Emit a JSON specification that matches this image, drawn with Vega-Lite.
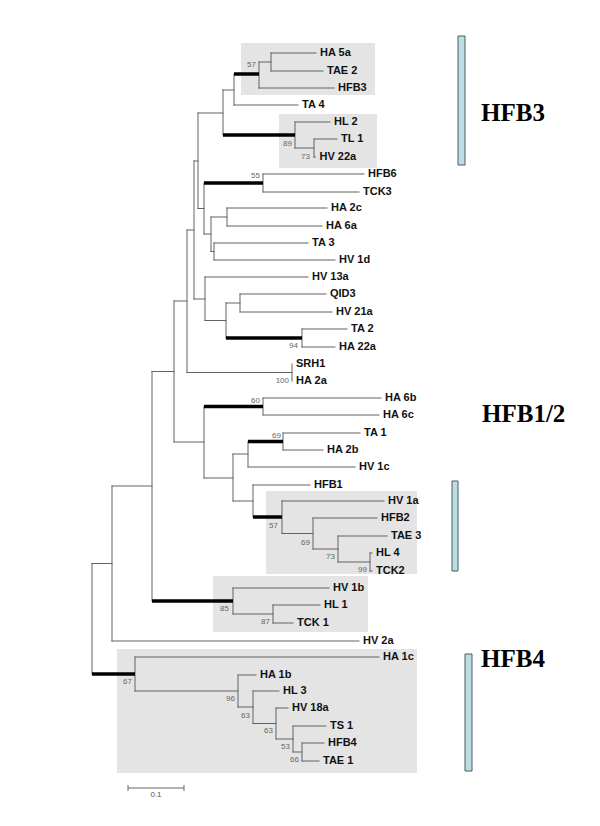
{
  "$schema": "https://vega.github.io/schema/vega-lite/v6.json",
  "width": 600,
  "height": 826,
  "padding": 0,
  "autosize": {"type": "none"},
  "background": "white",
  "config": {"view": {"stroke": null}},
  "datasets": {
    "boxes": [
      {"x": 241, "x2": 375, "y": 43, "y2": 95},
      {"x": 279, "x2": 377, "y": 114, "y2": 168},
      {"x": 266, "x2": 417, "y": 491, "y2": 574},
      {"x": 213, "x2": 368, "y": 576, "y2": 632},
      {"x": 117, "x2": 417, "y": 649, "y2": 773}
    ],
    "bars": [
      {"x": 458, "x2": 465, "y": 36, "y2": 165},
      {"x": 452, "x2": 458, "y": 481, "y2": 571},
      {"x": 465, "x2": 472, "y": 654, "y2": 771}
    ],
    "thin": [
      {"x": 271, "y": 53, "x2": 271, "y2": 71},
      {"x": 259, "y": 62, "x2": 259, "y2": 88},
      {"x": 234, "y": 74, "x2": 234, "y2": 105},
      {"x": 314, "y": 139, "x2": 314, "y2": 157},
      {"x": 295, "y": 122, "x2": 295, "y2": 148},
      {"x": 223, "y": 90, "x2": 223, "y2": 135},
      {"x": 263, "y": 174, "x2": 263, "y2": 192},
      {"x": 227, "y": 208, "x2": 227, "y2": 226},
      {"x": 214, "y": 243, "x2": 214, "y2": 260},
      {"x": 211, "y": 217, "x2": 211, "y2": 251.5},
      {"x": 204, "y": 183, "x2": 204, "y2": 234},
      {"x": 198, "y": 113, "x2": 198, "y2": 208.5},
      {"x": 240, "y": 294, "x2": 240, "y2": 312},
      {"x": 302, "y": 329, "x2": 302, "y2": 347},
      {"x": 226, "y": 303, "x2": 226, "y2": 338},
      {"x": 205, "y": 277, "x2": 205, "y2": 320.5},
      {"x": 194, "y": 161, "x2": 194, "y2": 299},
      {"x": 292, "y": 364, "x2": 292, "y2": 381},
      {"x": 187, "y": 230, "x2": 187, "y2": 372.5},
      {"x": 263, "y": 398, "x2": 263, "y2": 415},
      {"x": 283, "y": 433, "x2": 283, "y2": 450},
      {"x": 248, "y": 441.5, "x2": 248, "y2": 467},
      {"x": 370, "y": 553, "x2": 370, "y2": 571},
      {"x": 338, "y": 536, "x2": 338, "y2": 562},
      {"x": 313, "y": 518, "x2": 313, "y2": 549},
      {"x": 282, "y": 501, "x2": 282, "y2": 533.5},
      {"x": 253, "y": 485, "x2": 253, "y2": 517},
      {"x": 233, "y": 454, "x2": 233, "y2": 501},
      {"x": 204, "y": 406.5, "x2": 204, "y2": 478},
      {"x": 174, "y": 301, "x2": 174, "y2": 442},
      {"x": 273, "y": 605, "x2": 273, "y2": 623},
      {"x": 233, "y": 588, "x2": 233, "y2": 614},
      {"x": 152, "y": 371.5, "x2": 152, "y2": 601},
      {"x": 112, "y": 486, "x2": 112, "y2": 641},
      {"x": 302, "y": 743, "x2": 302, "y2": 761},
      {"x": 293, "y": 726, "x2": 293, "y2": 752},
      {"x": 276, "y": 708, "x2": 276, "y2": 739},
      {"x": 253, "y": 691, "x2": 253, "y2": 723.5},
      {"x": 238, "y": 675, "x2": 238, "y2": 707},
      {"x": 135, "y": 657, "x2": 135, "y2": 691},
      {"x": 92, "y": 563.5, "x2": 92, "y2": 674},
      {"x": 271, "y": 53, "x2": 316, "y2": 53},
      {"x": 271, "y": 71, "x2": 323, "y2": 71},
      {"x": 259, "y": 62, "x2": 271, "y2": 62},
      {"x": 259, "y": 88, "x2": 334, "y2": 88},
      {"x": 234, "y": 105, "x2": 298, "y2": 105},
      {"x": 223, "y": 90, "x2": 234, "y2": 90},
      {"x": 295, "y": 122, "x2": 330, "y2": 122},
      {"x": 295, "y": 148, "x2": 314, "y2": 148},
      {"x": 314, "y": 139, "x2": 337, "y2": 139},
      {"x": 314, "y": 157, "x2": 315.5, "y2": 157},
      {"x": 198, "y": 113, "x2": 223, "y2": 113},
      {"x": 263, "y": 174, "x2": 364, "y2": 174},
      {"x": 263, "y": 192, "x2": 359, "y2": 192},
      {"x": 227, "y": 208, "x2": 327, "y2": 208},
      {"x": 227, "y": 226, "x2": 322, "y2": 226},
      {"x": 211, "y": 217, "x2": 227, "y2": 217},
      {"x": 214, "y": 243, "x2": 308, "y2": 243},
      {"x": 214, "y": 260, "x2": 335, "y2": 260},
      {"x": 211, "y": 251.5, "x2": 214, "y2": 251.5},
      {"x": 204, "y": 234, "x2": 211, "y2": 234},
      {"x": 198, "y": 208.5, "x2": 204, "y2": 208.5},
      {"x": 194, "y": 161, "x2": 198, "y2": 161},
      {"x": 240, "y": 294, "x2": 326, "y2": 294},
      {"x": 240, "y": 312, "x2": 332, "y2": 312},
      {"x": 226, "y": 303, "x2": 240, "y2": 303},
      {"x": 302, "y": 329, "x2": 347, "y2": 329},
      {"x": 302, "y": 347, "x2": 335, "y2": 347},
      {"x": 205, "y": 320.5, "x2": 226, "y2": 320.5},
      {"x": 205, "y": 277, "x2": 308, "y2": 277},
      {"x": 194, "y": 299, "x2": 205, "y2": 299},
      {"x": 187, "y": 230, "x2": 194, "y2": 230},
      {"x": 187, "y": 372.5, "x2": 292, "y2": 372.5},
      {"x": 174, "y": 301, "x2": 187, "y2": 301},
      {"x": 263, "y": 398, "x2": 381, "y2": 398},
      {"x": 263, "y": 415, "x2": 379, "y2": 415},
      {"x": 283, "y": 433, "x2": 360, "y2": 433},
      {"x": 283, "y": 450, "x2": 323, "y2": 450},
      {"x": 248, "y": 467, "x2": 355, "y2": 467},
      {"x": 233, "y": 454, "x2": 248, "y2": 454},
      {"x": 370, "y": 553, "x2": 372, "y2": 553},
      {"x": 370, "y": 571, "x2": 372, "y2": 571},
      {"x": 338, "y": 536, "x2": 387, "y2": 536},
      {"x": 338, "y": 562, "x2": 370, "y2": 562},
      {"x": 313, "y": 518, "x2": 377, "y2": 518},
      {"x": 313, "y": 549, "x2": 338, "y2": 549},
      {"x": 282, "y": 501, "x2": 384, "y2": 501},
      {"x": 282, "y": 533.5, "x2": 313, "y2": 533.5},
      {"x": 253, "y": 485, "x2": 310, "y2": 485},
      {"x": 233, "y": 501, "x2": 253, "y2": 501},
      {"x": 204, "y": 478, "x2": 233, "y2": 478},
      {"x": 174, "y": 442, "x2": 204, "y2": 442},
      {"x": 152, "y": 371.5, "x2": 174, "y2": 371.5},
      {"x": 273, "y": 605, "x2": 320, "y2": 605},
      {"x": 273, "y": 623, "x2": 293, "y2": 623},
      {"x": 233, "y": 588, "x2": 329, "y2": 588},
      {"x": 233, "y": 614, "x2": 273, "y2": 614},
      {"x": 112, "y": 486, "x2": 152, "y2": 486},
      {"x": 112, "y": 641, "x2": 359, "y2": 641},
      {"x": 92, "y": 563.5, "x2": 112, "y2": 563.5},
      {"x": 302, "y": 743, "x2": 324, "y2": 743},
      {"x": 302, "y": 761, "x2": 319, "y2": 761},
      {"x": 293, "y": 726, "x2": 326, "y2": 726},
      {"x": 293, "y": 752, "x2": 302, "y2": 752},
      {"x": 276, "y": 708, "x2": 288, "y2": 708},
      {"x": 276, "y": 739, "x2": 293, "y2": 739},
      {"x": 253, "y": 691, "x2": 279, "y2": 691},
      {"x": 253, "y": 723.5, "x2": 276, "y2": 723.5},
      {"x": 238, "y": 675, "x2": 256, "y2": 675},
      {"x": 238, "y": 707, "x2": 253, "y2": 707},
      {"x": 135, "y": 657, "x2": 379, "y2": 657},
      {"x": 135, "y": 691, "x2": 238, "y2": 691}
    ],
    "thick": [
      {"x": 234, "y": 74, "x2": 259, "y2": 74},
      {"x": 223, "y": 135, "x2": 295, "y2": 135},
      {"x": 204, "y": 183, "x2": 263, "y2": 183},
      {"x": 226, "y": 338, "x2": 302, "y2": 338},
      {"x": 204, "y": 406.5, "x2": 263, "y2": 406.5},
      {"x": 248, "y": 441.5, "x2": 283, "y2": 441.5},
      {"x": 253, "y": 517, "x2": 282, "y2": 517},
      {"x": 152, "y": 601, "x2": 233, "y2": 601},
      {"x": 92, "y": 674, "x2": 135, "y2": 674}
    ],
    "scalebar": [
      {"x": 128, "y": 788, "x2": 184, "y2": 788},
      {"x": 128, "y": 785, "x2": 128, "y2": 791},
      {"x": 184, "y": 785, "x2": 184, "y2": 791}
    ],
    "leaves": [
      {"name": "HA 5a", "x": 316, "y": 53},
      {"name": "TAE 2", "x": 323, "y": 71},
      {"name": "HFB3", "x": 334, "y": 88},
      {"name": "TA 4", "x": 298, "y": 105},
      {"name": "HL 2", "x": 330, "y": 122},
      {"name": "TL 1", "x": 337, "y": 139},
      {"name": "HV 22a", "x": 315.5, "y": 157},
      {"name": "HFB6", "x": 364, "y": 174},
      {"name": "TCK3", "x": 359, "y": 192},
      {"name": "HA 2c", "x": 327, "y": 208},
      {"name": "HA 6a", "x": 322, "y": 226},
      {"name": "TA 3", "x": 308, "y": 243},
      {"name": "HV 1d", "x": 335, "y": 260},
      {"name": "HV 13a", "x": 308, "y": 277},
      {"name": "QID3", "x": 326, "y": 294},
      {"name": "HV 21a", "x": 332, "y": 312},
      {"name": "TA 2", "x": 347, "y": 329},
      {"name": "HA 22a", "x": 335, "y": 347},
      {"name": "SRH1", "x": 292, "y": 364},
      {"name": "HA 2a", "x": 292, "y": 381},
      {"name": "HA 6b", "x": 381, "y": 398},
      {"name": "HA 6c", "x": 379, "y": 415},
      {"name": "TA 1", "x": 360, "y": 433},
      {"name": "HA 2b", "x": 323, "y": 450},
      {"name": "HV 1c", "x": 355, "y": 467},
      {"name": "HFB1", "x": 310, "y": 485},
      {"name": "HV 1a", "x": 384, "y": 501},
      {"name": "HFB2", "x": 377, "y": 518},
      {"name": "TAE 3", "x": 387, "y": 536},
      {"name": "HL 4", "x": 372, "y": 553},
      {"name": "TCK2", "x": 372, "y": 571},
      {"name": "HV 1b", "x": 329, "y": 588},
      {"name": "HL 1", "x": 320, "y": 605},
      {"name": "TCK 1", "x": 293, "y": 623},
      {"name": "HV 2a", "x": 359, "y": 641},
      {"name": "HA 1c", "x": 379, "y": 657},
      {"name": "HA 1b", "x": 256, "y": 675},
      {"name": "HL 3", "x": 279, "y": 691},
      {"name": "HV 18a", "x": 288, "y": 708},
      {"name": "TS 1", "x": 326, "y": 726},
      {"name": "HFB4", "x": 324, "y": 743},
      {"name": "TAE 1", "x": 319, "y": 761}
    ],
    "boot": [
      {"v": "57", "x": 256, "y": 65},
      {"v": "89", "x": 292, "y": 143.5},
      {"v": "73", "x": 310, "y": 156.5},
      {"v": "55", "x": 260, "y": 176},
      {"v": "94", "x": 298, "y": 346},
      {"v": "100", "x": 289, "y": 381},
      {"v": "60", "x": 260, "y": 401},
      {"v": "69", "x": 281, "y": 435.5},
      {"v": "57", "x": 278, "y": 526},
      {"v": "69", "x": 310, "y": 543},
      {"v": "73", "x": 335, "y": 557},
      {"v": "99", "x": 367, "y": 570},
      {"v": "85", "x": 229, "y": 609},
      {"v": "87", "x": 270, "y": 622},
      {"v": "67", "x": 132, "y": 682},
      {"v": "96", "x": 235, "y": 699},
      {"v": "63", "x": 250, "y": 716},
      {"v": "63", "x": 273, "y": 731},
      {"v": "53", "x": 290, "y": 747},
      {"v": "66", "x": 299, "y": 760}
    ],
    "groups": [
      {"t": "HFB3", "x": 481, "y": 121},
      {"t": "HFB1/2", "x": 482, "y": 422},
      {"t": "HFB4", "x": 481, "y": 667}
    ],
    "scalelabel": [
      {"t": "0.1", "x": 156, "y": 795}
    ]
  },
  "layer": [
    {
      "data": {"name": "boxes"},
      "mark": {"type": "rect", "fill": "#e4e4e4"},
      "encoding": {
        "x": {"field": "x", "type": "quantitative", "scale": {"domain": [0, 600], "nice": false, "zero": false}, "axis": null},
        "x2": {"field": "x2"},
        "y": {"field": "y", "type": "quantitative", "scale": {"domain": [0, 826], "nice": false, "zero": false, "reverse": true}, "axis": null},
        "y2": {"field": "y2"}
      }
    },
    {
      "data": {"name": "bars"},
      "mark": {"type": "rect", "fill": "#b9dee3", "stroke": "#4f5b5d", "strokeWidth": 1},
      "encoding": {
        "x": {"field": "x", "type": "quantitative"},
        "x2": {"field": "x2"},
        "y": {"field": "y", "type": "quantitative"},
        "y2": {"field": "y2"}
      }
    },
    {
      "data": {"name": "thin"},
      "mark": {"type": "rule", "stroke": "#626262", "strokeWidth": 1, "strokeCap": "square"},
      "encoding": {
        "x": {"field": "x", "type": "quantitative"},
        "x2": {"field": "x2"},
        "y": {"field": "y", "type": "quantitative"},
        "y2": {"field": "y2"}
      }
    },
    {
      "data": {"name": "thick"},
      "mark": {"type": "rule", "stroke": "#000000", "strokeWidth": 3.5, "strokeCap": "butt"},
      "encoding": {
        "x": {"field": "x", "type": "quantitative"},
        "x2": {"field": "x2"},
        "y": {"field": "y", "type": "quantitative"},
        "y2": {"field": "y2"}
      }
    },
    {
      "data": {"name": "scalebar"},
      "mark": {"type": "rule", "stroke": "#666666", "strokeWidth": 1},
      "encoding": {
        "x": {"field": "x", "type": "quantitative"},
        "x2": {"field": "x2"},
        "y": {"field": "y", "type": "quantitative"},
        "y2": {"field": "y2"}
      }
    },
    {
      "data": {"name": "leaves"},
      "mark": {"type": "text", "align": "left", "baseline": "middle", "dx": 4, "font": "Liberation Sans", "fontWeight": "bold", "fontSize": 11, "fill": "#111111"},
      "encoding": {
        "x": {"field": "x", "type": "quantitative"},
        "y": {"field": "y", "type": "quantitative"},
        "text": {"field": "name"}
      }
    },
    {
      "data": {"name": "boot"},
      "mark": {"type": "text", "align": "right", "baseline": "middle", "font": "Liberation Sans", "fontSize": 8, "fill": "#666666"},
      "encoding": {
        "x": {"field": "x", "type": "quantitative"},
        "y": {"field": "y", "type": "quantitative"},
        "text": {"field": "v"}
      }
    },
    {
      "data": {"name": "scalelabel"},
      "mark": {"type": "text", "align": "center", "baseline": "middle", "font": "Liberation Sans", "fontSize": 8, "fill": "#555555"},
      "encoding": {
        "x": {"field": "x", "type": "quantitative"},
        "y": {"field": "y", "type": "quantitative"},
        "text": {"field": "t"}
      }
    },
    {
      "data": {"name": "groups"},
      "mark": {"type": "text", "align": "left", "baseline": "alphabetic", "font": "Liberation Serif", "fontWeight": "bold", "fontSize": 25, "fill": "#000000"},
      "encoding": {
        "x": {"field": "x", "type": "quantitative"},
        "y": {"field": "y", "type": "quantitative"},
        "text": {"field": "t"}
      }
    }
  ]
}
